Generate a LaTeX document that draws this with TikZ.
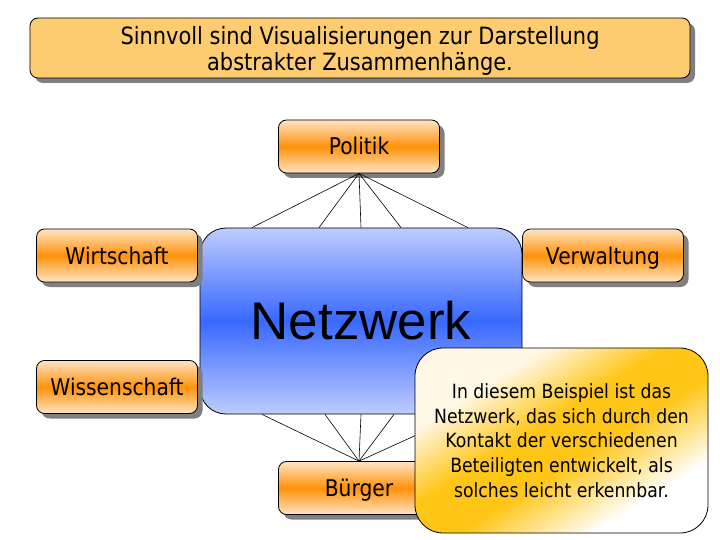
\documentclass[tikz,border=0pt]{standalone}
\usepackage{fontspec}
\setmainfont{DejaVu Sans}[FakeStretch=0.88]
\newfontfamily\hubfont{Liberation Sans}
\usetikzlibrary{shadows}
\definecolor{titlefill}{RGB}{253,204,112}
\definecolor{orangemid}{RGB}{255,146,10}
\definecolor{orangelite}{RGB}{255,228,196}
\definecolor{bluemid}{RGB}{56,104,255}
\definecolor{bluelite}{RGB}{190,204,255}
\definecolor{noteband}{RGB}{255,198,24}
\definecolor{notelite}{RGB}{255,248,230}
\definecolor{shade}{RGB}{128,128,128}
\pgfdeclareverticalshading{notefade}{100bp}{color(0bp)=(white); color(38bp)=(white);
  color(47bp)=(noteband); color(53bp)=(noteband); color(61bp)=(notelite);
  color(100bp)=(notelite)}
\tikzset{
  box/.style={draw, rounded corners=8pt, align=center, line width=0.8pt,
              inner sep=0pt, font=\fontsize{23}{26}\selectfont,
              text height=17pt, text depth=0pt,
              drop shadow={shadow xshift=5pt, shadow yshift=-5pt,
                           fill=shade, opacity=1}},
  actor/.style={box, top color=orangelite, bottom color=orangelite,
                middle color=orangemid, minimum width=161pt, minimum height=53pt},
  banner/.style={box, fill=titlefill, minimum width=660pt, minimum height=60pt,
                 text height=, text depth=0pt, font=\fontsize{23.8}{26}\selectfont},
  hub/.style={draw, rounded corners=26pt, line width=0.8pt,
              top color=bluelite, bottom color=bluelite, middle color=bluemid,
              minimum width=322pt, minimum height=186pt,
              font=\hubfont\fontsize{53}{60}\selectfont},
  note/.style={draw, rounded corners=28pt, line width=0.8pt, align=center,
               path picture={\shade[shading=notefade, shading angle=32]
                 ([shift={(-200pt,-200pt)}]path picture bounding box.center)
                 rectangle ++(400pt,400pt);},
               minimum width=293pt, minimum height=185pt,
               font=\fontsize{19.6}{24.6}\selectfont},
  link/.style={line width=0.6pt},
}
\begin{document}
\begin{tikzpicture}[x=1pt, y=-1pt]
  \useasboundingbox (0,0) rectangle (720,540);

  % ---------- heading ----------
  \node[banner] (title) at (360, 48)
    {Sinnvoll sind Visualisierungen zur Darstellung\\
     abstrakter Zusammenhänge.};

  % ---------- centre ----------
  \node[hub] (netz) at (361, 321) {Netzwerk};

  % ---------- actors round the network ----------
  \node[actor] (politik) at (359, 146.5) {Politik};
  \node[actor] (wirtschaft) at (117, 255.5) {Wirtschaft};
  \node[actor] (verwaltung) at (603, 255.5) {Verwaltung};
  \node[actor] (wissenschaft) at (117, 387) {Wissenschaft};
  \node[actor] (buerger) at (359, 488) {Bürger};

  % fans from politik and buerger onto the network box
  \foreach \dx in {-109, -42, 0, 40, 107}
    \draw[link] (politik.south) -- ([xshift=\dx pt]netz.north);
  \foreach \dx in {-99, -36, 0, 33, 101}
    \draw[link] (buerger.north) -- ([xshift=\dx pt]netz.south);

  % ---------- explanation ----------
  \node[note] (expl) at (561.5, 440.5)
    {In diesem Beispiel ist das\\
     Netzwerk, das sich durch den\\
     Kontakt der verschiedenen\\
     Beteiligten entwickelt, als\\
     solches leicht erkennbar.};

\end{tikzpicture}
\end{document}
